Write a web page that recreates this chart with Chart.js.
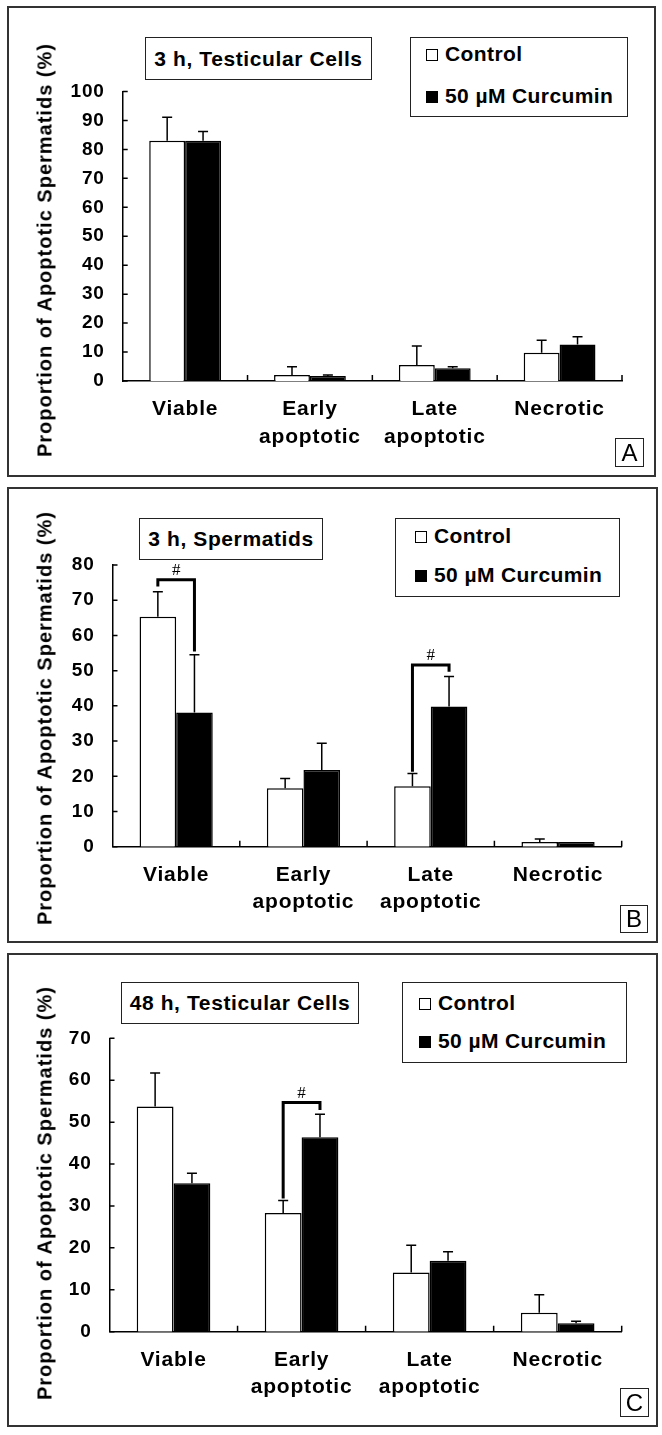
<!DOCTYPE html>
<html>
<head>
<meta charset="utf-8">
<script src="https://cdn.jsdelivr.net/npm/chart.js@4.4.0/dist/chart.umd.min.js"></script>
<style>
body { margin: 0; background: #fff; width: 662px; height: 1435px; position: relative; overflow: hidden;
       font-family: "Liberation Sans", Arial, sans-serif; color: #000; }
.panel { position: absolute; border: 2px solid #333; box-sizing: border-box; }
canvas { position: absolute; }
.tbox { position: absolute; border: 1.5px solid #222; box-sizing: border-box; background: #fff;
        font-weight: bold; font-size: 21px; letter-spacing: 0.6px; white-space: nowrap;
        display: flex; align-items: center; justify-content: center; }
.legend { position: absolute; border: 1.5px solid #222; box-sizing: border-box; background: #fff;
          font-weight: bold; font-size: 21px; letter-spacing: 0.4px; }
.legend .row { position: absolute; white-space: nowrap; line-height: 24px; transform: translateY(-50%); }
.legend .sw { position: absolute; width: 12px; height: 12px; border: 1px solid #000; box-sizing: border-box;
              transform: translateY(-50%); }
.letter { position: absolute; border: 1.5px solid #222; box-sizing: border-box; font-size: 24px;
          display: flex; align-items: center; justify-content: center; }
.ytitle { position: absolute; font-weight: bold; font-size: 20px; letter-spacing: 1px; white-space: nowrap;
          transform: translate(-50%, -50%) rotate(-90deg); }
</style>
</head>
<body>
<script>
// categories and series
var categories = [["Viable"], ["Early", "apoptotic"], ["Late", "apoptotic"], ["Necrotic"]];
var seriesNames = ["Control", "50 \u00b5M Curcumin"];
var yTitle = "Proportion of Apoptotic Spermatids (%)";

// A: 3 h, Testicular Cells
var controlA = [83.0, 2.1, 5.5, 9.8];
var controlErrA = [8.1, 2.8, 6.6, 4.3];
var curcuminA = [83.0, 1.7, 4.4, 12.6];
var curcuminErrA = [3.2, 0.4, 0.5, 2.7];

// B: 3 h, Spermatids
var controlB = [65.3, 16.6, 17.2, 1.3];
var controlErrB = [7.1, 2.8, 3.6, 0.9];
var curcuminB = [38.1, 21.8, 39.8, 1.3];
var curcuminErrB = [16.4, 7.6, 8.5, 0];
// [category, bracket level, control end, curcumin end]
var bracketsB = [[0, 75.8, 73.9, 55.4], [2, 51.6, 21.3, 49.7]];

// C: 48 h, Testicular Cells
var controlC = [53.7, 28.3, 14.1, 4.5];
var controlErrC = [8.0, 3.0, 6.5, 4.3];
var curcuminC = [35.4, 46.4, 16.9, 2.0];
var curcuminErrC = [2.4, 5.5, 2.2, 0.5];
var bracketsC = [[1, 54.7, 31.8, 52.9]];

var panels = [
    { title: "3 h, Testicular Cells", letter: "A", max: 100,
      control: controlA, controlErr: controlErrA, curcumin: curcuminA, curcuminErr: curcuminErrA, brackets: [],
      box: { x: 7, y: 6, w: 649, h: 471 },
      plot: { left: 122.7, top: 91.5, right: 622, bottom: 381 },
      tbox: { x: 145, y: 37, w: 227, h: 43 },
      leg: { x: 410, y: 37, w: 218, h: 80, sq: 15, tx: 34, r1: 16, r2: 58 },
      lbox: { x: 615, y: 438, s: 29 },
      ytitle: { x: 45, y: 250 } },
    { title: "3 h, Spermatids", letter: "B", max: 80,
      control: controlB, controlErr: controlErrB, curcumin: curcuminB, curcuminErr: curcuminErrB, brackets: bracketsB,
      box: { x: 7, y: 487, w: 651, h: 456 },
      plot: { left: 112.5, top: 565, right: 621.7, bottom: 846.7 },
      tbox: { x: 139, y: 518, w: 184, h: 42 },
      leg: { x: 395, y: 518, w: 225, h: 79, sq: 19, tx: 38, r1: 17, r2: 56 },
      lbox: { x: 620, y: 905, s: 28 },
      ytitle: { x: 45, y: 718 } },
    { title: "48 h, Testicular Cells", letter: "C", max: 70,
      control: controlC, controlErr: controlErrC, curcumin: curcuminC, curcuminErr: curcuminErrC, brackets: bracketsC,
      box: { x: 7, y: 953, w: 651, h: 474 },
      plot: { left: 109.5, top: 1038.3, right: 621.7, bottom: 1331.7 },
      tbox: { x: 121, y: 982, w: 238, h: 42 },
      leg: { x: 402, y: 982, w: 225, h: 81, sq: 16, tx: 35, r1: 20, r2: 58 },
      lbox: { x: 620, y: 1388, s: 29 },
      ytitle: { x: 45, y: 1193 } }
];

// error bars, inward ticks and significance brackets
var extras = {
    id: 'extras',
    beforeDraw: function (chart) {
        chart.ctx.letterSpacing = '0.8px';
    },
    afterDatasetsDraw: function (chart, args, opts) {
        var ctx = chart.ctx;
        var x = chart.scales.x, y = chart.scales.y;
        ctx.save();
        ctx.letterSpacing = '0px';
        ctx.strokeStyle = '#000';
        ctx.lineWidth = 1.5;
        chart.data.datasets.forEach(function (ds, di) {
            chart.getDatasetMeta(di).data.forEach(function (bar, i) {
                var err = ds.errors[i];
                if (!err) return;
                var top = y.getPixelForValue(ds.data[i] + err);
                ctx.beginPath();
                ctx.moveTo(bar.x, bar.y);
                ctx.lineTo(bar.x, top);
                ctx.moveTo(bar.x - 5, top);
                ctx.lineTo(bar.x + 5, top);
                ctx.stroke();
            });
        });
        ctx.beginPath();
        y.ticks.forEach(function (t) {
            var py = y.getPixelForValue(t.value);
            ctx.moveTo(y.right, py);
            ctx.lineTo(y.right + 5, py);
        });
        var n = chart.data.labels.length;
        for (var i = 1; i <= n; i++) {
            var bx = x.left + i * x.width / n;
            ctx.moveTo(bx, x.top);
            ctx.lineTo(bx, x.top - 6);
        }
        ctx.stroke();

        var m0 = chart.getDatasetMeta(0), m1 = chart.getDatasetMeta(1);
        (opts.brackets || []).forEach(function (b) {
            var xl = m0.data[b[0]].x, xr = m1.data[b[0]].x;
            var lvl = y.getPixelForValue(b[1]);
            ctx.lineWidth = 3;
            ctx.beginPath();
            ctx.moveTo(xl, y.getPixelForValue(b[2]));
            ctx.lineTo(xl, lvl);
            ctx.lineTo(xr, lvl);
            ctx.lineTo(xr, y.getPixelForValue(b[3]));
            ctx.stroke();
            ctx.fillStyle = '#000';
            ctx.font = '17px "Liberation Serif"';
            ctx.textAlign = 'center';
            ctx.textBaseline = 'middle';
            ctx.fillText('#', (xl + xr) / 2, lvl - 9);
        });
        ctx.restore();
    }
};

function addDiv(cls, x, y, w, h, html) {
    var d = document.createElement('div');
    d.className = cls;
    d.style.left = x + 'px';
    d.style.top = y + 'px';
    if (w) d.style.width = w + 'px';
    if (h) d.style.height = h + 'px';
    if (html) d.innerHTML = html;
    document.body.appendChild(d);
    return d;
}

panels.forEach(function (p) {
    var b = p.box, pl = p.plot;
    addDiv('panel', b.x, b.y, b.w, b.h);

    var canvas = document.createElement('canvas');
    canvas.width = b.w;
    canvas.height = b.h;
    canvas.style.left = b.x + 'px';
    canvas.style.top = b.y + 'px';
    document.body.appendChild(canvas);

    var tickFont = { family: 'Liberation Sans', size: 19, weight: 'bold' };
    var catFont = { family: 'Liberation Sans', size: 21, weight: 'bold', lineHeight: 1.3 };

    new Chart(canvas, {
        type: 'bar',
        data: {
            labels: categories,
            datasets: [
                { label: seriesNames[0], data: p.control, errors: p.controlErr,
                  backgroundColor: '#fff', borderColor: '#000', borderWidth: 1.5 },
                { label: seriesNames[1], data: p.curcumin, errors: p.curcuminErr,
                  backgroundColor: '#000', borderColor: '#000', borderWidth: 1.5 }
            ]
        },
        options: {
            responsive: false,
            animation: false,
            events: [],
            datasets: { bar: { categoryPercentage: 0.575, barPercentage: 1 } },
            layout: { padding: { top: pl.top - b.y, right: b.x + b.w - pl.right, left: 0, bottom: 0 } },
            plugins: { legend: { display: false }, tooltip: { enabled: false }, extras: { brackets: p.brackets } },
            scales: {
                x: {
                    grid: { display: false, drawTicks: false },
                    border: { display: true, color: '#000', width: 1.5 },
                    ticks: { color: '#000', font: catFont, padding: 15, maxRotation: 0, autoSkip: false },
                    afterFit: function (s) { s.height = b.y + b.h - pl.bottom; }
                },
                y: {
                    min: 0, max: p.max,
                    grid: { display: false, drawTicks: false },
                    border: { display: true, color: '#000', width: 1.5 },
                    ticks: { stepSize: 10, color: '#000', font: tickFont, padding: 18 },
                    afterFit: function (s) { s.width = pl.left - b.x; }
                }
            }
        },
        plugins: [extras]
    });

    addDiv('tbox', p.tbox.x, p.tbox.y, p.tbox.w, p.tbox.h, p.title);

    var lg = p.leg;
    var leg = addDiv('legend', lg.x, lg.y, lg.w, lg.h);
    [[lg.r1, '#fff', seriesNames[0]], [lg.r2, '#000', seriesNames[1]]].forEach(function (r) {
        var sw = document.createElement('div');
        sw.className = 'sw';
        sw.style.left = lg.sq + 'px';
        sw.style.top = (r[0] + 1) + 'px';
        sw.style.background = r[1];
        leg.appendChild(sw);
        var t = document.createElement('div');
        t.className = 'row';
        t.style.left = lg.tx + 'px';
        t.style.top = r[0] + 'px';
        t.textContent = r[2];
        leg.appendChild(t);
    });

    addDiv('letter', p.lbox.x, p.lbox.y, p.lbox.s, p.lbox.s, p.letter);
    var yt = addDiv('ytitle', p.ytitle.x, p.ytitle.y);
    yt.textContent = yTitle;
});
</script>
</body>
</html>
